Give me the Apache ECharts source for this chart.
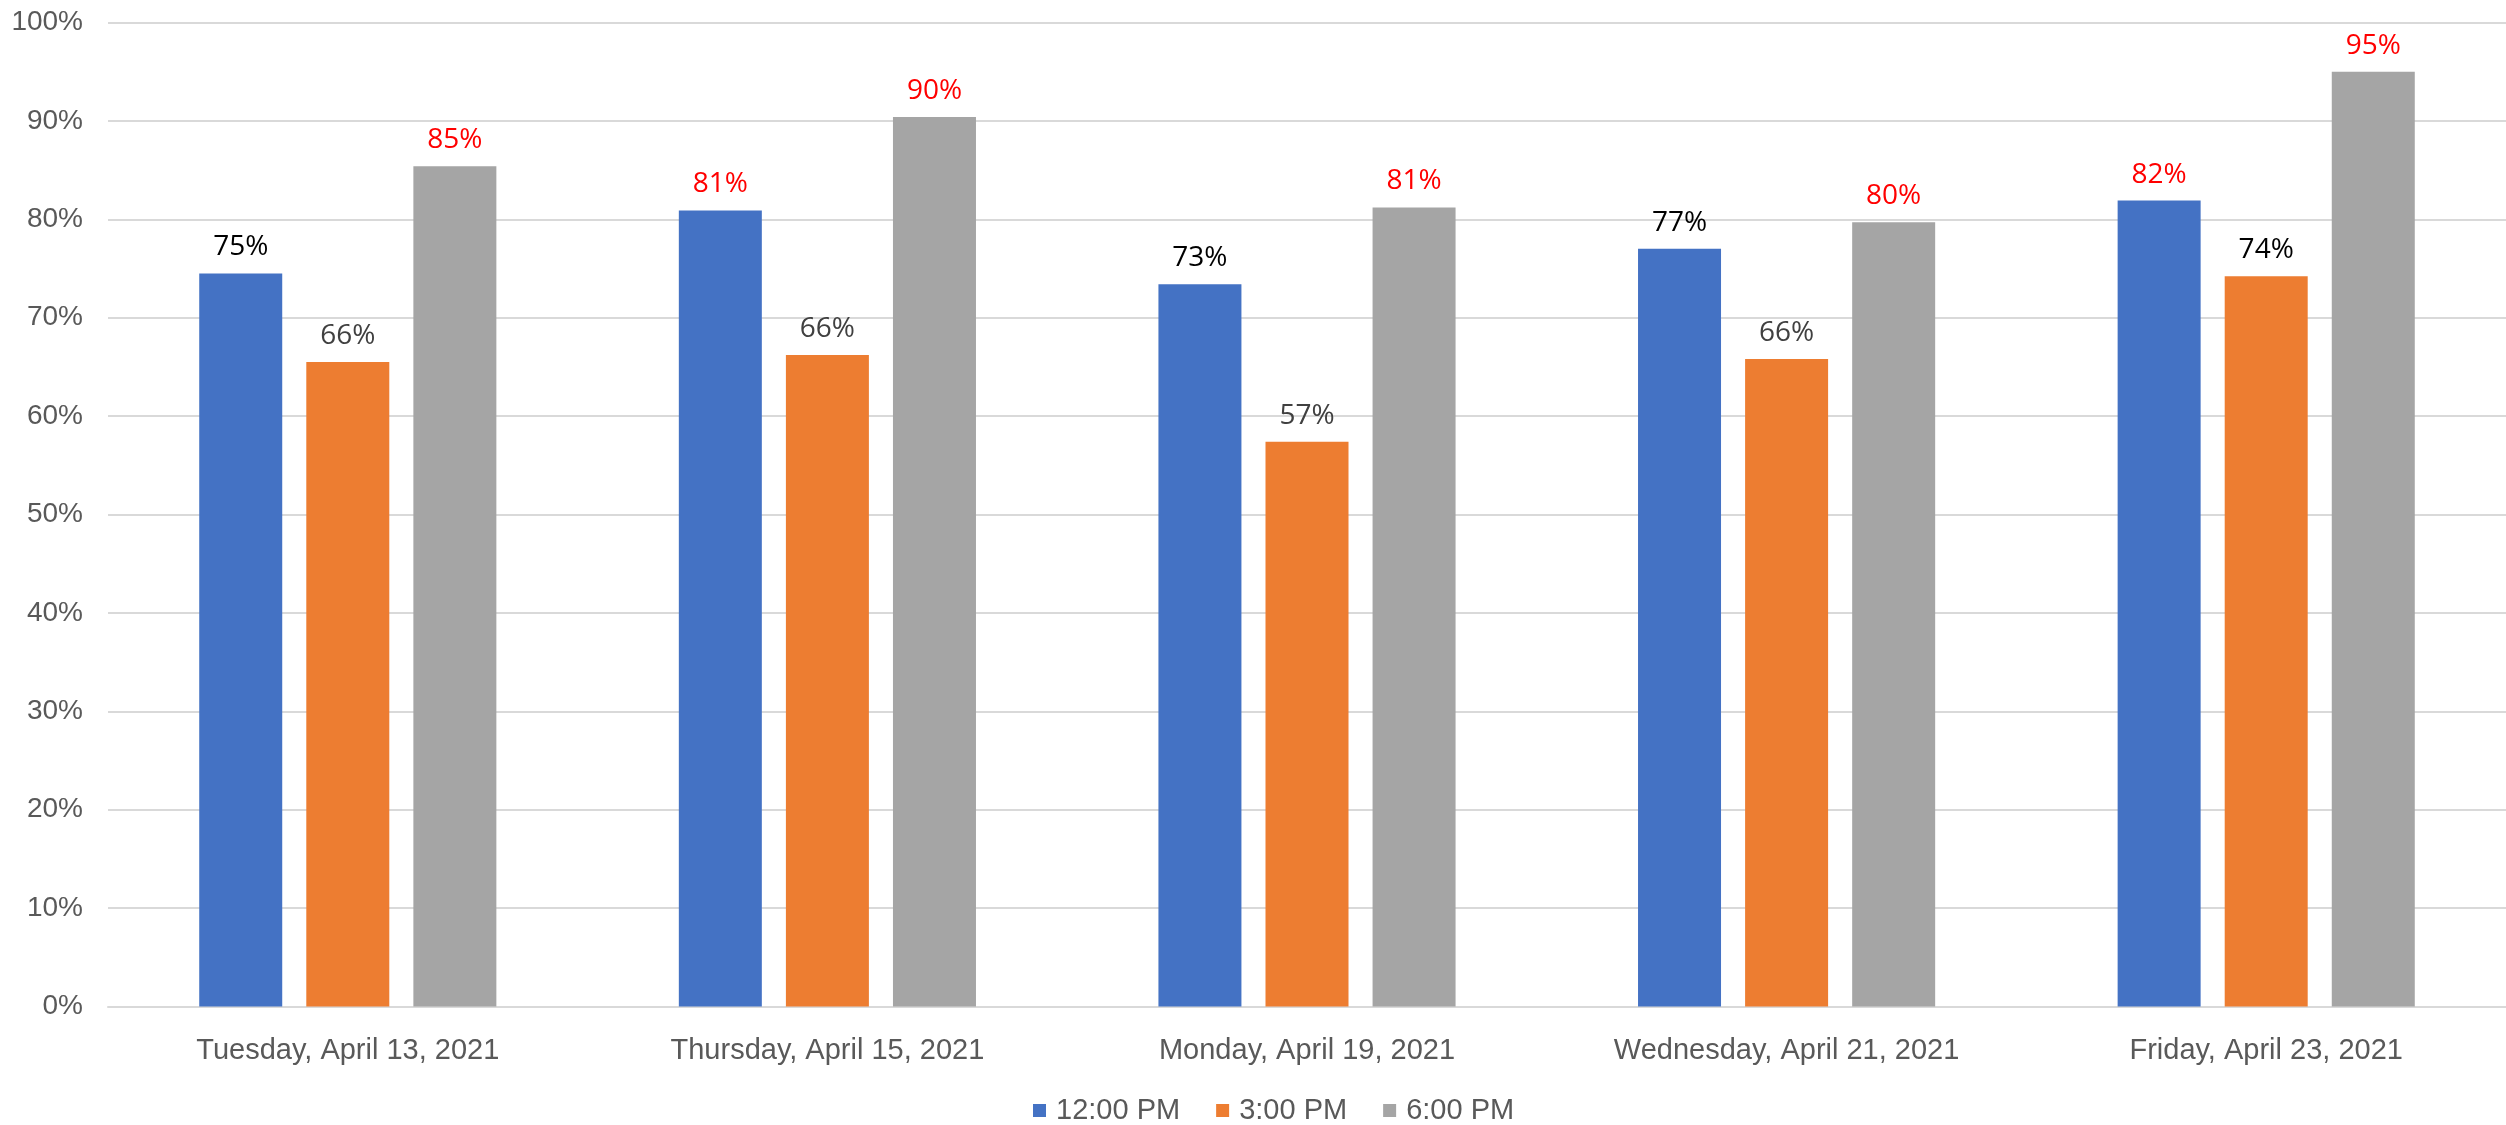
<!DOCTYPE html>
<html>
<head>
<meta charset="utf-8">
<script src="https://cdn.jsdelivr.net/npm/echarts@6/dist/echarts.min.js"></script>
<style>
html,body{margin:0;padding:0;background:#fff;}
#chart{width:2506px;height:1125px;}
</style>
</head>
<body>
<div id="chart"></div>
<script>
const categories = ["Tuesday, April 13, 2021", "Thursday, April 15, 2021", "Monday, April 19, 2021", "Wednesday, April 21, 2021", "Friday, April 23, 2021"];
const seriesNames = ["12:00 PM", "3:00 PM", "6:00 PM"];
const noon = [74.5, 80.9, 73.4, 77.0, 81.9];
const afternoon = [65.5, 66.2, 57.4, 65.8, 74.2];
const evening = [85.4, 90.4, 81.2, 79.7, 95.0];
const yTicks = [0, 10, 20, 30, 40, 50, 60, 70, 80, 90, 100];

const colors = ["#4472C4", "#ED7D31", "#A5A5A5"];

function labelColor(v) {
  const r = Math.round(v);
  if (r >= 80) return "#FF0000";
  if (r >= 70) return "#000000";
  return "#404040";
}

function makeSeries(name, data, color) {
  return {
    name: name,
    type: "bar",
    barWidth: 83,
    barGap: "29%",
    itemStyle: { color: color },
    data: data.map(v => ({
      value: v,
      label: { color: labelColor(v) }
    })),
    label: {
      show: true,
      position: "top",
      distance: 12,
      fontFamily: "Open Sans",
      fontSize: 28,
      formatter: p => Math.round(p.value) + "%"
    }
  };
}

const chart = echarts.init(document.getElementById("chart"), null, { renderer: "canvas" });
chart.setOption({
  animation: false,
  backgroundColor: "#ffffff",
  textStyle: { fontFamily: "Liberation Sans" },
  grid: { left: 108, right: -4, top: 22.5, bottom: 118.5, containLabel: false },
  legend: {
    data: seriesNames,
    top: 1091,
    left: 1028,
    icon: "rect",
    itemWidth: 13,
    itemHeight: 13,
    itemGap: 36,
    textStyle: { fontFamily: "Liberation Sans", fontSize: 29, color: "#595959", padding: [0, 0, 0, 5] }
  },
  xAxis: {
    type: "category",
    data: categories,
    axisLine: { show: true, lineStyle: { color: "#D9D9D9", width: 2 } },
    axisTick: { show: false },
    axisLabel: { fontFamily: "Liberation Sans", fontSize: 29, color: "#595959", margin: 30 }
  },
  yAxis: {
    type: "value",
    min: yTicks[0],
    max: yTicks[yTicks.length - 1],
    interval: 10,
    axisLine: { show: false },
    axisTick: { show: false },
    splitLine: { lineStyle: { color: "#D9D9D9", width: 2 } },
    axisLabel: { fontFamily: "Liberation Sans", fontSize: 28, color: "#595959", margin: 25, formatter: v => v + "%" }
  },
  series: [
    makeSeries(seriesNames[0], noon, colors[0]),
    makeSeries(seriesNames[1], afternoon, colors[1]),
    makeSeries(seriesNames[2], evening, colors[2])
  ]
});
</script>
</body>
</html>
